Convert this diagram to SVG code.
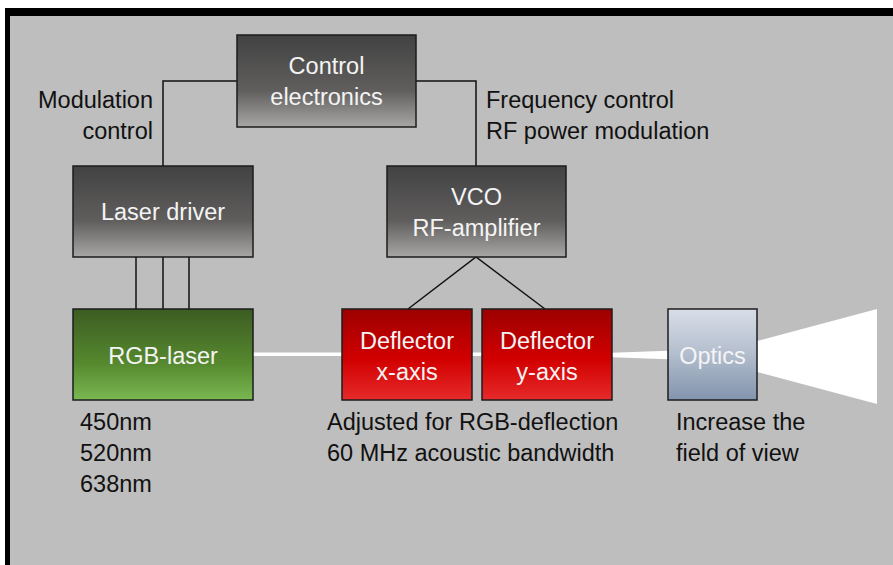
<svg xmlns="http://www.w3.org/2000/svg" width="893" height="565" viewBox="0 0 893 565">
<style>
.box{stroke:#1c1c1c;stroke-width:1.5}
.bt{font-family:"Liberation Sans",Arial,sans-serif;font-size:23.5px;fill:#f4f4f4;text-anchor:middle}
.lt{font-family:"Liberation Sans",Arial,sans-serif;font-size:23.5px;fill:#111}
.wire{stroke:#111;stroke-width:1.5;fill:none}
</style>
<defs>
<linearGradient id="gGrey" x1="0" y1="0" x2="0" y2="1">
<stop offset="0" stop-color="#424242"/><stop offset="0.6" stop-color="#605e5d"/><stop offset="1" stop-color="#a9a6a6"/>
</linearGradient>
<linearGradient id="gGreen" x1="0" y1="0" x2="0" y2="1">
<stop offset="0" stop-color="#3c5c22"/><stop offset="0.6" stop-color="#56892f"/><stop offset="1" stop-color="#7ab852"/>
</linearGradient>
<linearGradient id="gRed" x1="0" y1="0" x2="0" y2="1">
<stop offset="0" stop-color="#9c0000"/><stop offset="0.55" stop-color="#d20000"/><stop offset="1" stop-color="#e62a2a"/>
</linearGradient>
<linearGradient id="gBlue" x1="0" y1="0" x2="0" y2="1">
<stop offset="0" stop-color="#d8dee8"/><stop offset="0.5" stop-color="#b2bdcd"/><stop offset="1" stop-color="#8294ad"/>
</linearGradient>
</defs>
<rect x="0" y="0" width="893" height="565" fill="#ffffff"/>
<rect x="5" y="8" width="888" height="557" fill="#000"/>
<rect x="10" y="16" width="883" height="549" fill="#bebebe"/>

<g id="connectors">
<polyline class="wire" points="237,81 163,81 163,166"/>
<polyline class="wire" points="416,81 476,81 476,166"/>
<line class="wire" x1="136" y1="257" x2="136" y2="309"/>
<line class="wire" x1="163" y1="257" x2="163" y2="309"/>
<line class="wire" x1="189" y1="257" x2="189" y2="309"/>
<polyline class="wire" points="408,309 476,257 545,309"/>
<rect x="253" y="352.5" width="89" height="3.5" fill="#fff"/>
<rect x="472" y="352.5" width="10" height="3.5" fill="#fff"/>
<polygon points="612,352.7 668,350.7 668,359.3 612,357.3" fill="#fff"/>
<polygon points="757,341 877,309 877,404 757,372" fill="#fff"/>
</g>

<g id="control-electronics">
<rect class="box" x="237" y="35" width="179" height="92" fill="url(#gGrey)"/>
<text class="bt" x="326.5" y="74">Control</text>
<text class="bt" x="326.5" y="105">electronics</text>
</g>
<g id="laser-driver">
<rect class="box" x="73" y="166" width="180" height="91" fill="url(#gGrey)"/>
<text class="bt" x="163" y="220">Laser driver</text>
</g>
<g id="vco">
<rect class="box" x="387" y="166" width="179" height="91" fill="url(#gGrey)"/>
<text class="bt" x="476.5" y="205">VCO</text>
<text class="bt" x="476.5" y="236">RF-amplifier</text>
</g>
<g id="rgb-laser">
<rect class="box" x="73" y="309" width="180" height="91" fill="url(#gGreen)"/>
<text class="bt" x="163" y="364">RGB-laser</text>
</g>
<g id="deflector-x">
<rect class="box" x="342" y="309" width="130" height="91" fill="url(#gRed)"/>
<text class="bt" x="407" y="349">Deflector</text>
<text class="bt" x="407" y="380">x-axis</text>
</g>
<g id="deflector-y">
<rect class="box" x="482" y="309" width="130" height="91" fill="url(#gRed)"/>
<text class="bt" x="547" y="349">Deflector</text>
<text class="bt" x="547" y="380">y-axis</text>
</g>
<g id="optics">
<rect class="box" x="668" y="309" width="89" height="91" fill="url(#gBlue)"/>
<text class="bt" x="712.5" y="364">Optics</text>
</g>

<g id="labels">
<text class="lt" x="153" y="108" text-anchor="end">Modulation</text>
<text class="lt" x="153" y="139" text-anchor="end">control</text>
<text class="lt" x="486" y="108">Frequency control</text>
<text class="lt" x="486" y="139">RF power modulation</text>
<text class="lt" x="80" y="430">450nm</text>
<text class="lt" x="80" y="461">520nm</text>
<text class="lt" x="80" y="492">638nm</text>
<text class="lt" x="327" y="430">Adjusted for RGB-deflection</text>
<text class="lt" x="327" y="461">60 MHz acoustic bandwidth</text>
<text class="lt" x="676" y="430">Increase the</text>
<text class="lt" x="676" y="461">field of view</text>
</g>
</svg>
